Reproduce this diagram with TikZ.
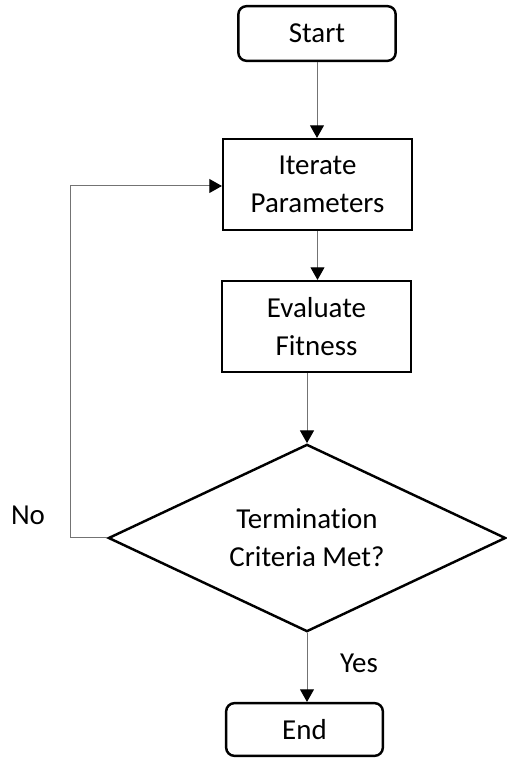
\documentclass[tikz,border=0pt]{standalone}
\usepackage{fontspec}
\setmainfont{Carlito}[RawFeature=-liga]
\usepackage{tikz}
\usetikzlibrary{arrows.meta}
\usetikzlibrary{shapes.geometric, positioning, calc}

\begin{document}
\begin{tikzpicture}[
        font=\fontsize{24.7}{32.5}\selectfont,
        terminal/.style={draw=black, line width=2.1pt, rounded corners=7pt, align=center, inner sep=0pt},
        process/.style={draw=black, line width=2.1pt, align=center, inner sep=0pt, minimum width=5.66cm, minimum height=2.72cm},
        decision/.style={diamond, draw=black, line width=2.1pt, align=center, inner sep=0pt, aspect=2.1, minimum width=11.92cm, minimum height=5.62cm},
        flow/.style={draw=black!55, line width=0.85pt, -{Triangle[length=0.38cm, width=0.42cm, black]}}
    ]
        \useasboundingbox (0, 0) rectangle (15.21, 22.77);

        \node[terminal, minimum width=4.72cm, minimum height=1.64cm] (start) at (9.51, 21.765) {Start};
        \node[process] (iter) at (9.525, 17.235) {Iterate\\Parameters};
        \node[process] (eval) at (9.495, 12.975) {Evaluate\\Fitness};
        \node[decision] (check) at (9.21, 6.63) {Termination\\Criteria Met?};
        \node[terminal, minimum width=4.7cm, minimum height=1.58cm] (finish) at (9.135, 0.885) {End};

        \coordinate (loopbot) at (2.12, 6.63);
        \coordinate (looptop) at (2.12, 17.19);

        \draw[flow] (start.south) -- (start.south |- iter.north);
        \draw[flow] (iter.south) -- (iter.south |- eval.north);
        \draw[flow] (eval.south -| check.north) -- (check.north);
        \draw[flow] (check.south) -- (check.south |- finish.north);
        \draw[flow] (check.west) -- (loopbot) -- (looptop) -- (looptop -| iter.west);

        \node (no) at (0.84, 7.32) {No};
        \node (yes) at (10.77, 2.88) {Yes};
\end{tikzpicture}
\end{document}
